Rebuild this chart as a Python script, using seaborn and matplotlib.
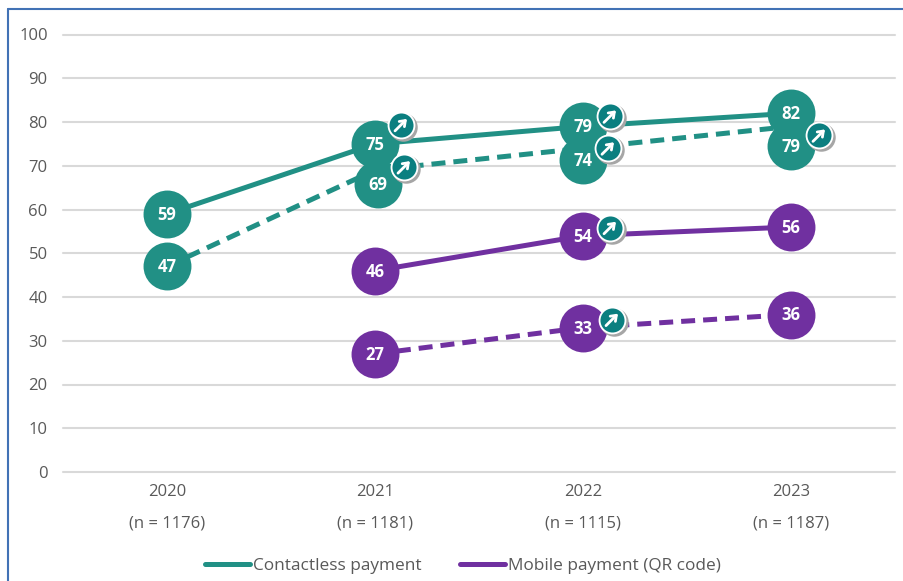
import numpy as np
import pandas as pd
import seaborn as sns
import matplotlib
matplotlib.use('Agg')
import matplotlib.pyplot as plt
from matplotlib.lines import Line2D
from matplotlib.transforms import offset_copy

years = ['2020', '2021', '2022', '2023']
sample_sizes = [1176, 1181, 1115, 1187]
contactless_solid = [59, 75, 79, 82]
contactless_dashed = [47, 69, 74, 79]
mobile_solid = [np.nan, 46, 54, 56]
mobile_dashed = [np.nan, 27, 33, 36]
y_ticks = [0, 10, 20, 30, 40, 50, 60, 70, 80, 90, 100]
legend_labels = ['Contactless payment', 'Mobile payment (QR code)']

TEAL = '#219085'
PURPLE = '#7030a0'
TEXT = '#595959'

sns.set_theme(style='white')
plt.rcParams['font.family'] = ['Open Sans', 'DejaVu Sans']

rows = []
for payment, line, vals in [('contactless', 'solid', contactless_solid),
                            ('contactless', 'dashed', contactless_dashed),
                            ('mobile', 'solid', mobile_solid),
                            ('mobile', 'dashed', mobile_dashed)]:
    for i, v in enumerate(vals):
        rows.append({'x': i, 'value': v, 'payment': payment, 'line': line})
df = pd.DataFrame(rows).dropna()

W, H = 904, 581
fig = plt.figure(figsize=(W / 100, H / 100), dpi=100, facecolor='white')
ax = fig.add_axes([63 / W, 1 - 472 / H, (895 - 63) / W, (472 - 34.5) / H])

sns.lineplot(data=df, x='x', y='value', hue='payment', style='line',
             palette={'contactless': TEAL, 'mobile': PURPLE},
             dashes={'solid': '', 'dashed': (2.8, 1.6)},
             linewidth=3.6, errorbar=None, legend=False, ax=ax, zorder=2)

ax.set_xlim(-0.5, 3.5)
ax.set_ylim(0, 100)
ax.set_yticks(y_ticks)
ax.set_xticks(range(len(years)))
ax.set_xticklabels([f'{y}\n\n(n = {n})' for y, n in zip(years, sample_sizes)])
ax.set_xlabel('')
ax.set_ylabel('')
ax.grid(axis='y', color='#d9d9d9', lw=1.5, clip_on=False)
ax.set_axisbelow(True)
sns.despine(ax=ax, left=True, bottom=True)
ax.tick_params(axis='both', length=0, labelsize=12, labelcolor=TEXT)
ax.tick_params(axis='x', pad=9)
ax.tick_params(axis='y', pad=11)
for lab in ax.get_xticklabels():
    lab.set_linespacing(0.96)
for gl in ax.get_ygridlines():
    gl.set_clip_on(False)


def shifted(dx, dy):
    return offset_copy(ax.transData, fig=fig, x=dx, y=dy, units='dots')


def bubble(i, v, color, dx=0, dy=0):
    tr = shifted(dx, dy)
    ax.scatter([i], [v], s=1190, color=color, linewidths=0, transform=tr,
               zorder=3, clip_on=False)
    ax.text(i, v, str(v), transform=shifted(dx, dy - 1), color='white', fontsize=12,
            fontweight='bold', ha='center', va='center', zorder=4)


def badge(i, v, dx, dy):
    ax.scatter([i], [v], s=420, color='#a6a6a6', linewidths=0,
               transform=shifted(dx + 2, dy - 2), zorder=5, clip_on=False)
    ax.scatter([i], [v], s=400, color='white', linewidths=0,
               transform=shifted(dx, dy), zorder=6, clip_on=False)
    ax.scatter([i], [v], s=300, color='#0b7f80', linewidths=0,
               transform=shifted(dx, dy), zorder=7, clip_on=False)
    ax.annotate('', xy=(i, v), xycoords=shifted(dx + 6, dy + 6),
                xytext=(i, v), textcoords=shifted(dx - 6, dy - 6),
                arrowprops=dict(arrowstyle='->,head_length=0.3,head_width=0.22',
                                color='white', lw=2, shrinkA=0, shrinkB=0),
                zorder=8)


for i, v in enumerate(contactless_solid):
    bubble(i, v, TEAL)
for i, v in enumerate(contactless_dashed):
    # circles 69, 74 and the last 79 sit below their line points in the original
    dx, dy = {1: (3, -14), 2: (0, -12), 3: (0, -20)}.get(i, (0, 0))
    bubble(i, v, TEAL, dx, dy)
for vals in (mobile_solid, mobile_dashed):
    for i, v in enumerate(vals):
        if not np.isnan(v):
            bubble(i, int(v), PURPLE)

badge(1, contactless_solid[1], 26, 19)
badge(1, contactless_dashed[1], 29, 3)
badge(2, contactless_solid[2], 27, 10)
badge(2, contactless_dashed[2], 25, 0)
badge(2, mobile_solid[2], 27, 8)
badge(2, mobile_dashed[2], 29, 8)
badge(3, contactless_dashed[3], 28, -9)

handles = [Line2D([], [], color=TEAL, lw=3.6, solid_capstyle='round'),
           Line2D([], [], color=PURPLE, lw=3.6, solid_capstyle='round')]
fig.legend(handles, legend_labels, loc='center', bbox_to_anchor=(463 / W, 1 - 565.5 / H),
           ncol=2, frameon=False, fontsize=12.4, labelcolor=TEXT, handlelength=2.6,
           handletextpad=0.18, columnspacing=2.2)

# blue frame of the pasted picture, runs off the right and bottom edges
frame = '#4272b5'
fig.add_artist(Line2D([7.5 / W, 7.5 / W], [0, 1 - 9 / H], color=frame, lw=1.5))
fig.add_artist(Line2D([7.5 / W, 1], [1 - 9 / H, 1 - 9 / H], color=frame, lw=1.5))

fig.savefig('out.png', dpi=100)
